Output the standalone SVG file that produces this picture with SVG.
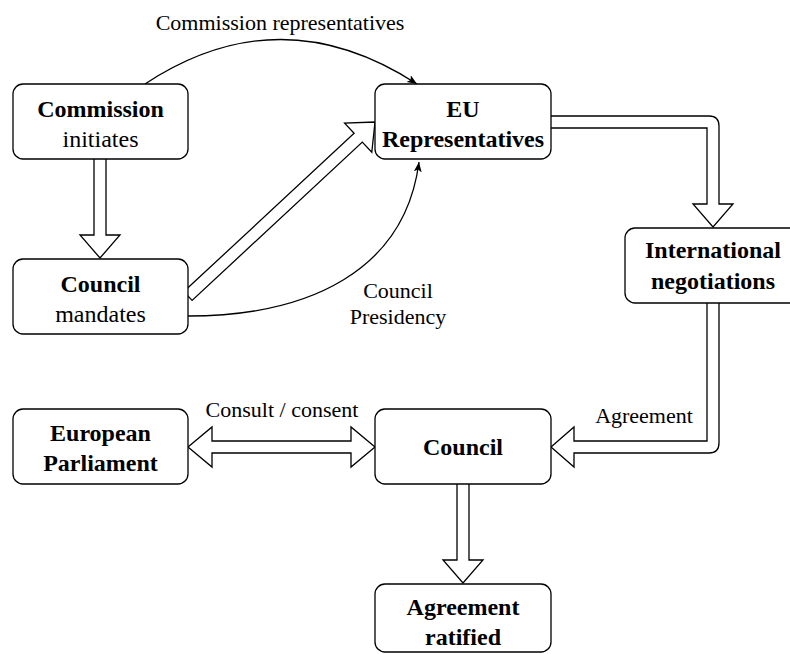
<svg xmlns="http://www.w3.org/2000/svg" width="790" height="654" viewBox="0 0 790 654">
<defs>
<style>
.box{fill:#fff;stroke:#000;stroke-width:1.3}
.fat{fill:#fff;stroke:#000;stroke-width:1.3;stroke-linejoin:miter}
.thin{fill:none;stroke:#000;stroke-width:1.3}
.nt{font-family:"Liberation Serif","Times New Roman",serif;font-size:24px;text-anchor:middle;fill:#000}
.b{font-weight:bold}
.lb{font-family:"Liberation Serif","Times New Roman",serif;font-size:22px;fill:#000}
</style>
<marker id="ah" markerWidth="12" markerHeight="10" refX="10" refY="4" orient="auto" markerUnits="userSpaceOnUse">
<path d="M0,0 L10,4 L0,8 L2.5,4 z" fill="#000"/>
</marker>
</defs>
<rect width="790" height="654" fill="#fff"/>

<g id="connectors">
<path class="thin" d="M145,84 Q280,-5 417,84" marker-end="url(#ah)"/>
<path class="thin" d="M188,316 C310,316 405,270 419,162" marker-end="url(#ah)"/>
<path class="fat" d="M94,159 L94,235 L80,235 L100,258 L120,235 L106,235 L106,159"/>
<path class="fat" d="M183.9,291.6 L354.1,133.3 L344.6,123.1 L375,122 L371.8,152.3 L362.3,142.1 L192.1,300.4 Z"/>
<path class="fat" d="M551,116 L709,116 Q719,116 719,126 L719,204 L733,204 L713,227 L693,204 L707,204 L707,128 L551,128"/>
<path class="fat" d="M707,303 L707,441 L574,441 L574,427 L551,447 L574,467 L574,453 L709,453 Q719,453 719,443 L719,303"/>
<path class="fat" d="M188,447 L212,427 L212,441 L351,441 L351,427 L375,447 L351,467 L351,453 L212,453 L212,467 Z"/>
<path class="fat" d="M457,484 L457,560 L443,560 L463,583 L483,560 L469,560 L469,484"/>
<text class="lb" x="280" y="30" text-anchor="middle">Commission representatives</text>
<text class="lb" x="398" y="298" text-anchor="middle">Council</text>
<text class="lb" x="398" y="324" text-anchor="middle">Presidency</text>
<text class="lb" x="282" y="417" text-anchor="middle">Consult / consent</text>
<text class="lb" x="644" y="423" text-anchor="middle">Agreement</text>
</g>

<g id="commission">
<rect class="box" x="13" y="84" width="175" height="75" rx="10"/>
<text class="nt b" x="100.5" y="117">Commission</text>
<text class="nt" x="100.5" y="147">initiates</text>
</g>
<g id="council-mandates">
<rect class="box" x="13" y="259" width="175" height="75" rx="10"/>
<text class="nt b" x="100.5" y="292">Council</text>
<text class="nt" x="100.5" y="322">mandates</text>
</g>
<g id="eu-representatives">
<rect class="box" x="375" y="84" width="176" height="75" rx="10"/>
<text class="nt b" x="463" y="117">EU</text>
<text class="nt b" x="463" y="147">Representatives</text>
</g>
<g id="international-negotiations">
<rect class="box" x="625" y="228" width="176" height="75" rx="10"/>
<text class="nt b" x="713" y="258">International</text>
<text class="nt b" x="713" y="289">negotiations</text>
</g>
<g id="european-parliament">
<rect class="box" x="13" y="409" width="175" height="75" rx="10"/>
<text class="nt b" x="100.5" y="441">European</text>
<text class="nt b" x="100.5" y="471">Parliament</text>
</g>
<g id="council">
<rect class="box" x="375" y="409" width="176" height="75" rx="10"/>
<text class="nt b" x="463" y="455">Council</text>
</g>
<g id="agreement-ratified">
<rect class="box" x="375" y="584" width="176" height="68" rx="10"/>
<text class="nt b" x="463" y="615">Agreement</text>
<text class="nt b" x="463" y="645">ratified</text>
</g>
</svg>
